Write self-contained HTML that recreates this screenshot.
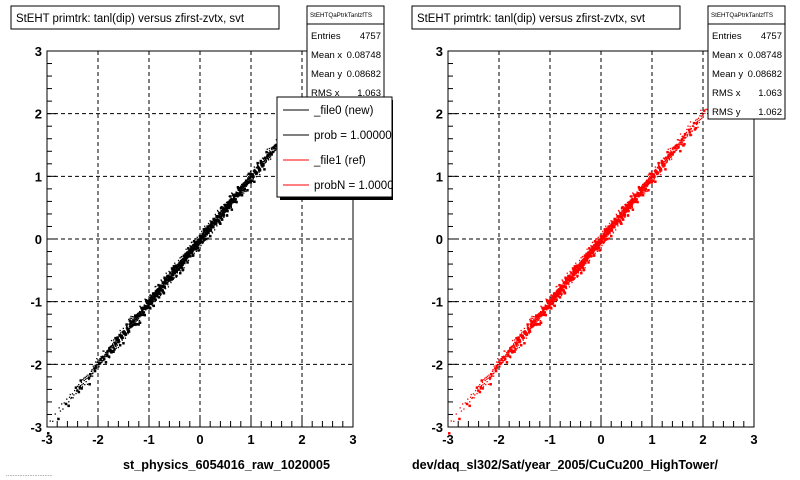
<!DOCTYPE html>
<html><head><meta charset="utf-8"><style>
body{margin:0;background:#fff;width:800px;height:480px;overflow:hidden;font-family:"Liberation Sans",sans-serif}
svg{display:block}
</style></head><body>
<svg id="c" width="800" height="480" xmlns="http://www.w3.org/2000/svg"></svg>
<script>
// data
const binX = [-2.9,-2.7,-2.5,-2.3,-2.1,-1.9,-1.7,-1.5,-1.3,-1.1,-0.9,-0.7,-0.5,-0.3,-0.1,0.1,0.3,0.5,0.7,0.9,1.1,1.3,1.5,1.7,1.9,2.1];
const binMeanY = [-2.85,-2.65,-2.47,-2.28,-2.08,-1.88,-1.69,-1.49,-1.29,-1.09,-0.89,-0.69,-0.49,-0.29,-0.09,0.11,0.31,0.51,0.71,0.91,1.11,1.31,1.51,1.71,1.91,2.08];
const binCount = [4,8,14,22,34,46,60,76,90,105,118,128,134,138,138,134,128,118,105,90,76,60,46,34,22,8];
const leftMaxX = 1.6;
const xTicks = [-3,-2,-1,0,1,2,3];
const yTicks = [-3,-2,-1,0,1,2,3];
const stats = [["Entries","4757"],["Mean x","0.08748"],["Mean y","0.08682"],["RMS x","1.063"],["RMS y","1.062"]];
const legendItems = [["_file0 (new)","#000"],["prob = 1.000000","#000"],["_file1 (ref)","#f00"],["probN = 1.000000","#f00"]];

const NS="http://www.w3.org/2000/svg", svg=document.getElementById('c');
function mk(t,a,p){const e=document.createElementNS(NS,t);for(const k in a)e.setAttribute(k,a[k]);(p||svg).appendChild(e);return e;}

function panel(x0,color,xlabel,maxX,name,lx,lw){
  const x1=x0+306, y0=51, y1=427;
  const sx=v=>x0+(v+3)*(x1-x0)/6, sy=v=>y1-(v+3)*(y1-y0)/6;
  const g=mk('g',{});
  
  
  xTicks.slice(1,-1).forEach(v=>{const l=mk('line',{x1:sx(v),x2:sx(v),y1:y0,y2:y1,stroke:'#000','stroke-dasharray':'4,3','stroke-width':1},g);
    });
  yTicks.slice(1,-1).forEach(v=>{const l=mk('line',{x1:x0,x2:x1,y1:sy(v),y2:sy(v),stroke:'#000','stroke-dasharray':'4,3','stroke-width':1},g);
    });
  const pts=mk('g',{fill:color},g);
  
  
  binX.forEach((bx,i)=>{
    if(bx>maxX) return;
    const n=binCount[i];
    for(let k=0;k<n;k++){
      const u=((k*37)%n)/n-0.5, w=(((k*53+i*11)%97)/97-0.5);
      const px=bx+u*0.2, py=binMeanY[i]+(px-bx)+w*0.12*(k%4===0?2.2:1);
      if(px>maxX) continue;
      const r=mk('rect',{x:sx(px).toFixed(1),y:sy(py).toFixed(1),width:k%6===0?2.5:1.3,height:k%6===0?2.5:1.3},pts);
      
      
    }
  });
  const f=mk('rect',{x:x0,y:y0,width:x1-x0,height:y1-y0,fill:'none',stroke:'#000','stroke-width':1},g);
  
  for(let v=-3;v<=3.001;v+=0.2){
    const maj=Math.abs(v-Math.round(v))<1e-6;
    mk('line',{x1:sx(v),x2:sx(v),y1:y1,y2:y1-(maj?11:6),stroke:'#000'},g);
    mk('line',{x1:x0,x2:x0+(maj?9:5),y1:sy(v),y2:sy(v),stroke:'#000'},g);
  }
  xTicks.forEach(v=>{const t=mk('text',{x:sx(v),y:y1+17,'text-anchor':'middle','font-size':13,'font-weight':'bold'},g);t.textContent=v;
    });
  yTicks.forEach(v=>{const t=mk('text',{x:x0-5,y:sy(v)+5,'text-anchor':'end','font-size':13,'font-weight':'bold'},g);t.textContent=v;
    });
  const xl=mk('text',{x:lx,y:469,'font-size':13,'font-weight':'bold',textLength:lw,lengthAdjust:'spacingAndGlyphs'},g);xl.textContent=xlabel;
  
  const tb=mk('rect',{x:x0-36,y:6,width:268,height:23,fill:'#fff',stroke:'#000'},g);
  
  const tt=mk('text',{x:x0-31,y:22,'font-size':11.5,textLength:228,lengthAdjust:'spacingAndGlyphs'},g);tt.textContent='StEHT primtrk: tanl(dip) versus zfirst-zvtx, svt';
  
  const bx=x0+260;
  const sb=mk('rect',{x:bx,y:6,width:77,height:113,fill:'#fff',stroke:'#000'},g);
  
  mk('line',{x1:bx,x2:bx+77,y1:24,y2:24,stroke:'#000'},g);
  const sn=mk('text',{x:bx+3,y:17,'font-size':6,textLength:62,lengthAdjust:'spacingAndGlyphs'},g);sn.textContent='StEHTQaPtrkTanlzfTS';
  
  stats.forEach((s,i)=>{
    const a=mk('text',{x:bx+4,y:39+i*19,'font-size':9.5},g);a.textContent=s[0];
    
    const b=mk('text',{x:bx+74,y:39+i*19,'font-size':9.5,'text-anchor':'end'},g);b.textContent=s[1];
    
  });
}
panel(47,'#000','st_physics_6054016_raw_1020005',leftMaxX,'left-panel',123,207);
panel(448,'#f00','dev/daq_sl302/Sat/year_2005/CuCu200_HighTower/',2.2,'right-panel',412,306);

const lg=mk('g',{});


mk('rect',{x:280,y:100,width:115,height:100,fill:'#000'},lg);
mk('rect',{x:277,y:97,width:115,height:100,fill:'#fff',stroke:'#000'},lg);
legendItems.forEach((it,i)=>{
  const y=110+i*25;
  const l=mk('line',{x1:283,x2:309,y1:y,y2:y,stroke:it[1],'stroke-width':1},lg);
  
  const t=mk('text',{x:314,y:y+4,'font-size':11.5},lg);t.textContent=it[0];
  
});
mk('rect',{x:393,y:96,width:20,height:110,fill:'#fff'});
const ft=mk('text',{x:6,y:476,'font-size':6,fill:'#555'});ft.textContent='............................';

</script>
</body></html>
